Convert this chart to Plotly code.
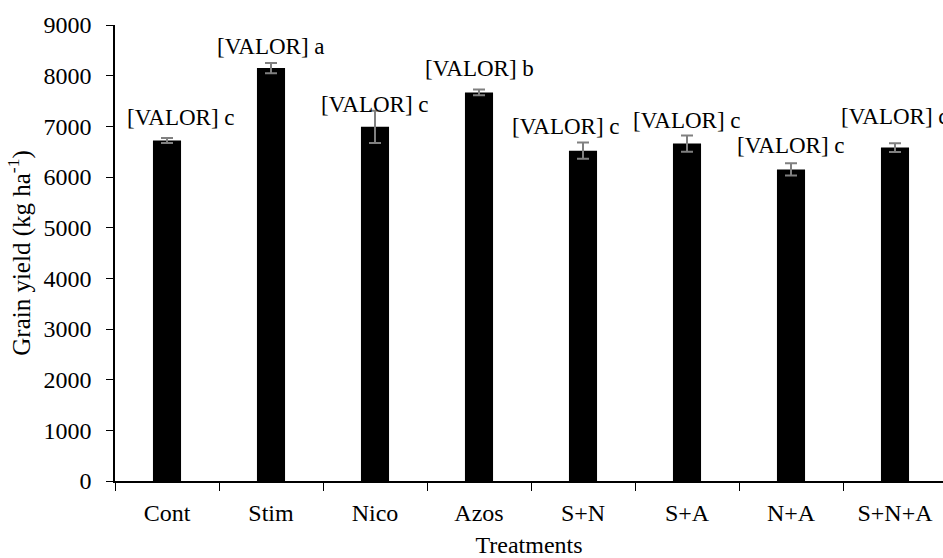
import plotly.graph_objects as go

# Treatments and mean grain yield (kg/ha) with standard errors
treatments = ["Cont", "Stim", "Nico", "Azos", "S+N", "S+A", "N+A", "S+N+A"]
grain_yield = [6720, 8150, 6990, 7670, 6520, 6660, 6150, 6580]
std_error = [50, 100, 320, 55, 160, 160, 120, 85]
label_text = ["[VALOR] c", "[VALOR] a", "[VALOR] c", "[VALOR] b",
              "[VALOR] c", "[VALOR] c", "[VALOR] c", "[VALOR] c"]

# Label nudges in pixels (horizontal, vertical above the bar top)
label_dx = [14, 0, 0, 0, -17, 0, 0, 0]
label_dy = [23, 22, 22, 24, 24, 23, 24, 31]

FONT = "Liberation Serif, Times New Roman, serif"

fig = go.Figure()
fig.add_trace(go.Bar(
    x=treatments,
    y=grain_yield,
    width=0.27,
    marker=dict(color="#000000", line=dict(width=0)),
    error_y=dict(type="data", array=std_error, visible=True,
                 color="#808080", thickness=2, width=6),
    showlegend=False,
))

for name, val, txt, dx, dy in zip(treatments, grain_yield, label_text, label_dx, label_dy):
    fig.add_annotation(
        x=name, y=val, text=txt, showarrow=False,
        xanchor="center", yanchor="middle",
        xshift=dx, yshift=dy,
        font=dict(family=FONT, size=23, color="#000000"),
    )

fig.update_layout(
    width=943, height=558,
    margin=dict(l=115, r=0, t=25, b=77),
    paper_bgcolor="white", plot_bgcolor="white",
    font=dict(family=FONT, size=24, color="#000000"),
    bargap=0.73,
)

fig.update_xaxes(
    type="category",
    range=[-0.5, 7.4615],
    tickson="boundaries",
    ticks="outside", ticklen=8, tickcolor="#000000", tickwidth=1,
    showline=True, linecolor="#000000", linewidth=1.5,
    showgrid=False, zeroline=False,
    tickfont=dict(family=FONT, size=24),
    ticklabelstandoff=9,
    title=dict(text="Treatments", font=dict(family=FONT, size=24), standoff=15),
)

fig.update_yaxes(
    range=[0, 9000],
    tickmode="linear", tick0=0, dtick=1000,
    ticks="outside", ticklen=7, tickcolor="#000000", tickwidth=1,
    showline=True, linecolor="#000000", linewidth=1.5,
    showgrid=False, zeroline=False,
    tickfont=dict(family=FONT, size=24),
    ticklabelstandoff=10,
    title=dict(text="Grain yield (kg ha<sup>-1</sup>)", font=dict(family=FONT, size=25), standoff=6),
)

fig.write_html("out.html")
